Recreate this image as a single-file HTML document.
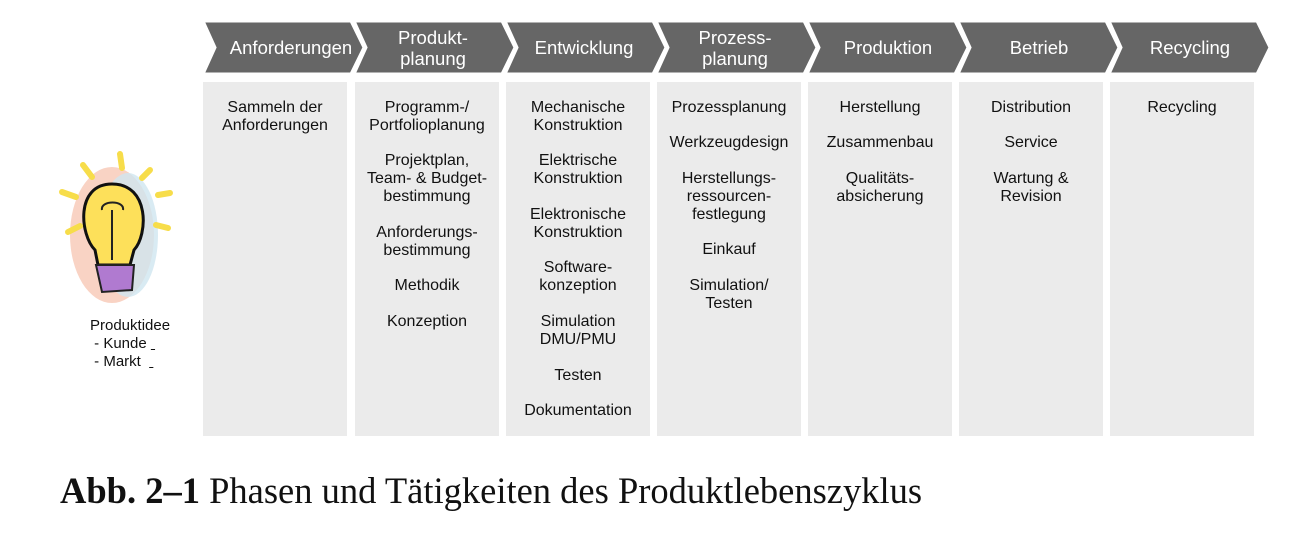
<!DOCTYPE html>
<html><head><meta charset="utf-8"><style>
body{margin:0;width:1302px;height:550px;background:#fff;position:relative;overflow:hidden;font-family:"Liberation Sans",Arial,sans-serif}
.col{position:absolute;top:82px;width:144px;height:354px;background:#ebebeb}
.t{position:absolute;width:144px;text-align:center;font-size:16px;line-height:18px;color:#111;margin-top:2px}
.h{position:absolute;top:21px;height:53px;width:150px;display:flex;align-items:center;justify-content:center;text-align:center;color:#fff;font-size:18.5px;line-height:21px}
</style></head><body>
<svg width="1302" height="100" style="position:absolute;left:0;top:0">
<g fill="#666" stroke="#fff" stroke-width="3" stroke-linejoin="miter">
<polygon points="203,21 351,21 364,47.5 351,74 203,74 215,47.5"/>
<polygon points="354,21 502,21 515,47.5 502,74 354,74 366,47.5"/>
<polygon points="505,21 653,21 666,47.5 653,74 505,74 517,47.5"/>
<polygon points="656,21 804,21 817,47.5 804,74 656,74 668,47.5"/>
<polygon points="807,21 955,21 968,47.5 955,74 807,74 819,47.5"/>
<polygon points="958,21 1106,21 1119,47.5 1106,74 958,74 970,47.5"/>
<polygon points="1109,21 1257,21 1270,47.5 1257,74 1109,74 1121,47.5"/>
</g></svg>
<div class="h" style="left:216px">Anforderungen</div>
<div class="h" style="left:358px">Produkt-<br>planung</div>
<div class="h" style="left:509px">Entwicklung</div>
<div class="h" style="left:660px">Prozess-<br>planung</div>
<div class="h" style="left:813px">Produktion</div>
<div class="h" style="left:964px">Betrieb</div>
<div class="h" style="left:1115px">Recycling</div>

<div class="col" style="left:203px"><div class="t" style="top:15px">Sammeln der<br>Anforderungen</div></div>
<div class="col" style="left:355px">
<div class="t" style="top:15px">Programm-/<br>Portfolioplanung</div>
<div class="t" style="top:68px">Projektplan,<br>Team- &amp; Budget-<br>bestimmung</div>
<div class="t" style="top:140px">Anforderungs-<br>bestimmung</div>
<div class="t" style="top:193px">Methodik</div>
<div class="t" style="top:229px">Konzeption</div></div>
<div class="col" style="left:506px">
<div class="t" style="top:15px">Mechanische<br>Konstruktion</div>
<div class="t" style="top:68px">Elektrische<br>Konstruktion</div>
<div class="t" style="top:122px">Elektronische<br>Konstruktion</div>
<div class="t" style="top:175px">Software-<br>konzeption</div>
<div class="t" style="top:229px">Simulation<br>DMU/PMU</div>
<div class="t" style="top:283px">Testen</div>
<div class="t" style="top:318px">Dokumentation</div></div>
<div class="col" style="left:657px">
<div class="t" style="top:15px">Prozessplanung</div>
<div class="t" style="top:50px">Werkzeugdesign</div>
<div class="t" style="top:86px">Herstellungs-<br>ressourcen-<br>festlegung</div>
<div class="t" style="top:157px">Einkauf</div>
<div class="t" style="top:193px">Simulation/<br>Testen</div></div>
<div class="col" style="left:808px">
<div class="t" style="top:15px">Herstellung</div>
<div class="t" style="top:50px">Zusammenbau</div>
<div class="t" style="top:86px">Qualitäts-<br>absicherung</div></div>
<div class="col" style="left:959px">
<div class="t" style="top:15px">Distribution</div>
<div class="t" style="top:50px">Service</div>
<div class="t" style="top:86px">Wartung &amp;<br>Revision</div></div>
<div class="col" style="left:1110px">
<div class="t" style="top:15px">Recycling</div></div>

<svg width="140" height="180" style="position:absolute;left:50px;top:140px" viewBox="0 0 140 180">
<ellipse cx="62" cy="95" rx="42" ry="68" fill="#f9d3c4"/>
<ellipse cx="78" cy="95" rx="30" ry="62" fill="#cfe6f0" opacity=".8"/>
<path d="M62 44 C25 44 30 95 45 110 L48 125 L80 125 L84 110 C98 95 100 44 62 44Z" fill="#fde05a" stroke="#111" stroke-width="3"/>
<path d="M46 125 L84 125 L82 150 L52 152Z" fill="#b07ad0" stroke="#222" stroke-width="2"/>
<path d="M62 120 L62 70 M52 70 C50 60 75 60 73 70" stroke="#222" stroke-width="2" fill="none"/>
<g stroke="#f7dd4a" stroke-width="6" stroke-linecap="round">
<line x1="70" y1="14" x2="72" y2="28"/><line x1="33" y1="25" x2="42" y2="37"/><line x1="100" y1="30" x2="92" y2="38"/>
<line x1="12" y1="52" x2="26" y2="57"/><line x1="108" y1="55" x2="120" y2="53"/><line x1="18" y1="92" x2="30" y2="86"/><line x1="106" y1="85" x2="118" y2="88"/>
</g></svg>
<div style="position:absolute;left:90px;top:317px;font-size:15px;line-height:18px;color:#111">Produktidee<br>&nbsp;- Kunde <u>&nbsp;</u><br>&nbsp;- Markt &nbsp;<u>&nbsp;</u></div>

<div style="position:absolute;left:60px;top:470px;font-family:'Liberation Serif',serif;font-size:36.5px;line-height:42px;color:#111;white-space:nowrap"><b>Abb. 2–1</b> Phasen und Tätigkeiten des Produktlebenszyklus</div>
</body></html>
